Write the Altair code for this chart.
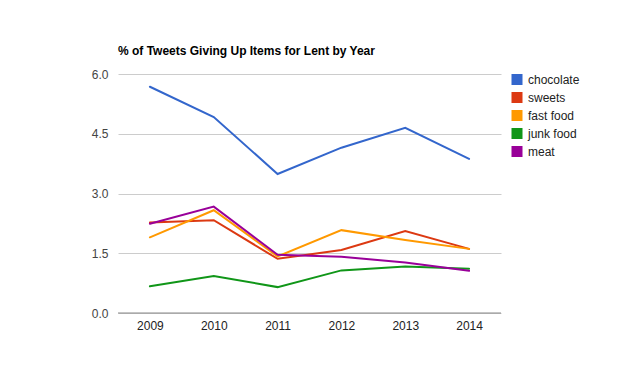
import altair as alt
import pandas as pd

years = ["2009", "2010", "2011", "2012", "2013", "2014"]
series_names = ["chocolate", "sweets", "fast food", "junk food", "meat"]
chocolate = [5.68, 4.92, 3.49, 4.15, 4.65, 3.87]
sweets = [2.27, 2.33, 1.36, 1.58, 2.06, 1.61]
fast_food = [1.90, 2.58, 1.42, 2.08, 1.83, 1.61]
junk_food = [0.67, 0.93, 0.65, 1.07, 1.17, 1.11]
meat = [2.24, 2.67, 1.46, 1.41, 1.27, 1.06]
colors = ["#3366cc", "#dc3912", "#ff9900", "#109618", "#990099"]
y_ticks = [0, 1.5, 3, 4.5, 6]

rows = []
for name, vals in zip(series_names, [chocolate, sweets, fast_food, junk_food, meat]):
    for yr, v in zip(years, vals):
        rows.append({"year": yr, "value": v, "series": name})
df = pd.DataFrame(rows)

FONT = "Liberation Sans"

lines = alt.Chart(df).mark_line(strokeWidth=2).encode(
    x=alt.X("year:N", sort=years, title=None,
            scale=alt.Scale(paddingInner=0, paddingOuter=0.5),
            axis=alt.Axis(labelAngle=0, domain=False, ticks=False, grid=False,
                          labelPadding=7, labelFont=FONT, labelFontSize=12,
                          labelColor="#222222")),
    y=alt.Y("value:Q", title=None,
            scale=alt.Scale(domain=[0, 6], nice=False),
            axis=alt.Axis(values=y_ticks, format=".1f", domain=False, ticks=False,
                          gridColor="#cccccc", labelPadding=10, labelFont=FONT,
                          labelFontSize=12, labelColor="#444444")),
    color=alt.Color("series:N", sort=series_names,
                    scale=alt.Scale(domain=series_names, range=colors),
                    legend=alt.Legend(title=None, orient="none", legendX=393, legendY=-1,
                                      symbolType="square", symbolSize=25,
                                      symbolStrokeWidth=6, symbolOpacity=1,
                                      labelFont=FONT, labelFontSize=12,
                                      labelColor="#222222", rowPadding=5,
                                      clipHeight=13, labelOffset=5)),
    order=alt.Order("series:N"),
)

baseline = alt.Chart(pd.DataFrame({"v": [0]})).mark_rule(color="#888888", strokeWidth=1).encode(
    y="v:Q"
)

chart = alt.layer(baseline, lines).properties(
    width=383, height=239,
    title=alt.TitleParams("% of Tweets Giving Up Items for Lent by Year", anchor="start",
                          font=FONT, fontSize=12, fontWeight="bold", color="#000000",
                          offset=10, frame="group"),
    autosize=alt.AutoSizeParams(type="none"),
    padding={"left": 110, "top": 66, "right": 110, "bottom": 60},
).configure_view(stroke=None).configure_line(strokeCap="round")

chart.save("out.html", embed_options={"renderer": "svg", "actions": False})
